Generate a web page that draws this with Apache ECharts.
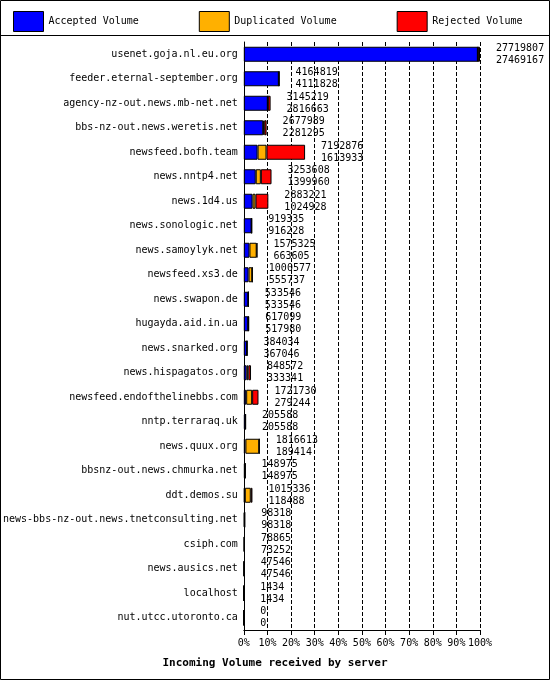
<!DOCTYPE html>
<html><head><meta charset="utf-8">
<script src="https://cdn.jsdelivr.net/npm/echarts@6/dist/echarts.min.js"></script>
<style>html,body{margin:0;padding:0;background:#fff}#c{width:550px;height:680px}</style>
</head><body><div id="c"></div>
<script>
const servers = ["usenet.goja.nl.eu.org","feeder.eternal-september.org","agency-nz-out.news.mb-net.net","bbs-nz-out.news.weretis.net","newsfeed.bofh.team","news.nntp4.net","news.1d4.us","news.sonologic.net","news.samoylyk.net","newsfeed.xs3.de","news.swapon.de","hugayda.aid.in.ua","news.snarked.org","news.hispagatos.org","newsfeed.endofthelinebbs.com","nntp.terraraq.uk","news.quux.org","bbsnz-out.news.chmurka.net","ddt.demos.su","news-bbs-nz-out.news.tnetconsulting.net","csiph.com","news.ausics.net","localhost","nut.utcc.utoronto.ca"];
const totalVolume = [27719807,4164819,3145219,2677989,7192876,3253608,2883221,919335,1575325,1000577,533546,617099,384034,848572,1721730,205588,1816613,148975,1015336,98318,78865,47546,1434,0];
const accepted = [27469167,4111828,2816663,2281295,1613933,1399960,1024928,916228,663605,555737,533546,517980,367046,333341,279244,205588,189414,148975,118488,98318,73252,47546,1434,0];
const duplicated = [0,0,0,120000,1050000,600000,350000,3107,850000,444840,0,0,0,200000,700000,0,1627199,0,700000,0,0,0,0,0];
const rejected = [250640,52991,328556,276694,4528943,1253648,1508293,0,61720,0,0,99119,16988,315231,742486,0,0,0,196848,0,5613,0,0,0];
const tickPercents = [0,10,20,30,40,50,60,70,80,90,100];
const maxV = 27719807;
const font = "DejaVu Sans Mono";
const chart = echarts.init(document.getElementById('c'));
const mk = (name, data, color, withLabel) => ({
  name, type:'bar', stack:'v', data, barWidth:15,
  itemStyle:{color, borderColor:'#000', borderWidth:1},
  label: withLabel ? {show:true, position:'right', distance:16, fontFamily:font, fontSize:10, color:'#000', lineHeight:12,
    formatter: p => totalVolume[p.dataIndex] + '\n' + accepted[p.dataIndex]} : {show:false}
});
chart.setOption({
  animation:false, backgroundColor:'#fff',
  textStyle:{fontFamily:font},
  legend:{top:6, left:8, itemGap:60, itemWidth:30, itemHeight:20, icon:'rect',
    textStyle:{fontFamily:font, fontSize:10, color:'#000'},
    itemStyle:{borderColor:'#000', borderWidth:1},
    data:['Accepted Volume','Duplicated Volume','Rejected Volume']},
  title:{text:'Incoming Volume received by server', bottom:6, left:'center',
    textStyle:{fontFamily:font, fontSize:11, fontWeight:'bold', color:'#000'}},
  grid:{left:243, right:70, top:42, bottom:50},
  xAxis:{type:'value', min:0, max:maxV, interval:maxV/10,
    axisLine:{show:true, lineStyle:{color:'#000'}}, axisTick:{show:true, lineStyle:{color:'#000'}},
    axisLabel:{fontFamily:font, fontSize:10, color:'#000', formatter: v => tickPercents[Math.round(v/maxV*10)] + '%'},
    splitLine:{show:true, lineStyle:{color:'#000', type:'dashed'}}},
  yAxis:{type:'category', inverse:true, data:servers,
    axisLine:{show:true, lineStyle:{color:'#000'}}, axisTick:{show:false},
    axisLabel:{fontFamily:font, fontSize:10, color:'#000', margin:6}},
  series:[
    mk('Accepted Volume', accepted, '#0000ff', false),
    mk('Duplicated Volume', duplicated, '#ffb000', false),
    mk('Rejected Volume', rejected, '#ff0000', true)
  ],
  graphic:[
    {type:'rect', shape:{x:0.5,y:0.5,width:549,height:679}, style:{fill:'none', stroke:'#000', lineWidth:1}, silent:true},
    {type:'line', shape:{x1:0,y1:35.5,x2:550,y2:35.5}, style:{stroke:'#000', lineWidth:1}, silent:true}
  ]
});
</script></body></html>
